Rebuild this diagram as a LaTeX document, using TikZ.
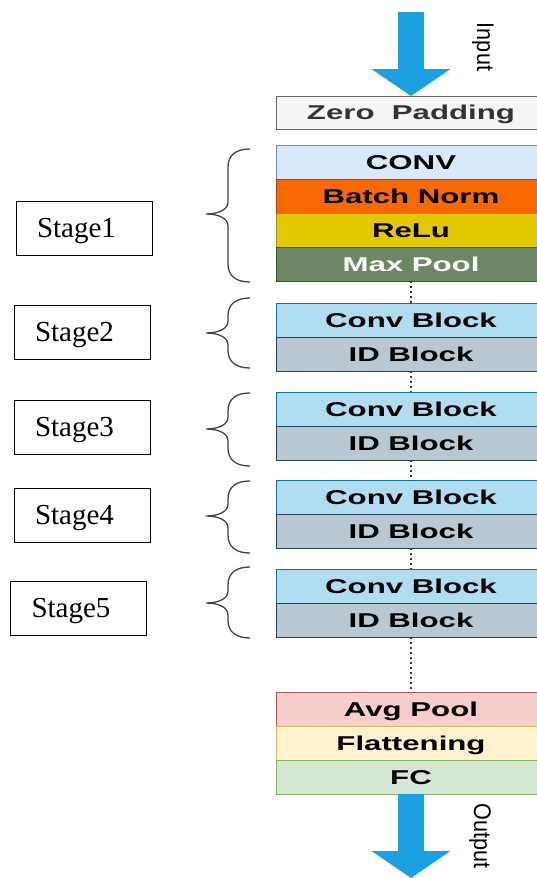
\documentclass[tikz,border=0pt]{standalone}
\usepackage{fontspec}
\setmainfont{Liberation Serif}
\newfontfamily\blockfont{Liberation Sans}[FakeStretch=1.56]
\newfontfamily\iofont{Liberation Sans}[FakeStretch=0.9]
\usetikzlibrary{arrows.meta,positioning}
\definecolor{padfill}{HTML}{F5F5F5}
\definecolor{padline}{HTML}{666666}
\definecolor{padtext}{HTML}{333333}
\definecolor{convfill}{HTML}{DAE8FC}
\definecolor{convline}{HTML}{6C8EBF}
\definecolor{bnfill}{HTML}{FA6800}
\definecolor{bnline}{HTML}{C73500}
\definecolor{relufill}{HTML}{E3C800}
\definecolor{reluline}{HTML}{B09500}
\definecolor{poolfill}{HTML}{6D8764}
\definecolor{poolline}{HTML}{3A5431}
\definecolor{cbfill}{HTML}{B1DDF0}
\definecolor{cbline}{HTML}{10739E}
\definecolor{idfill}{HTML}{BAC8D3}
\definecolor{idline}{HTML}{23445D}
\definecolor{avgfill}{HTML}{F8CECC}
\definecolor{avgline}{HTML}{B85450}
\definecolor{flatfill}{HTML}{FFF2CC}
\definecolor{flatline}{HTML}{D6B656}
\definecolor{fcfill}{HTML}{D5E8D4}
\definecolor{fcline}{HTML}{82B366}
\definecolor{flowblue}{HTML}{1BA1E2}
\definecolor{bracegray}{HTML}{444444}

\begin{document}
\begin{tikzpicture}[
                x=1pt, y=-1pt,
                layer/.style={
                        draw, line width=0.8pt, minimum width=270pt,
                        minimum height=34pt, inner sep=0pt, outer sep=0pt,
                        text height=14.3pt, text depth=0pt,
                        font=\blockfont\bfseries\fontsize{20}{23}\selectfont
                    },
                stagebox/.style={
                        draw=black, line width=0.8pt, text width=94pt,
                        inner xsep=21pt, inner ysep=0pt, minimum height=54pt,
                        align=left, text height=19pt, text depth=0pt,
                        font=\fontsize{29}{32}\selectfont
                    },
                iolabel/.style={font=\iofont\fontsize{24}{26}\selectfont, rotate=-90},
                flow/.style={draw=flowblue, line width=26pt,
                        -{Triangle[width=79pt, length=27pt, line width=0pt]}},
                dotline/.style={draw=padtext, line width=1.6pt, dash pattern=on 1.6pt off 3.4pt},
                brace/.style={draw=bracegray, line width=1.3pt}
                ]
                \useasboundingbox (0,0) rectangle (536,878);

                % input side
                \coordinate (intop) at (411,12);
                \node[iolabel] (inlabel) at (483,47) {Input};
                \node[layer, fill=padfill, draw=padline, text=padtext, minimum height=33pt] (zero) at (411,112.5) {Zero~~Padding};

                % stage 1
                \node[layer, fill=convfill, draw=convline, anchor=north] (conv) at (411,145) {CONV};
                \node[layer, fill=bnfill, draw=bnline, below=0pt of conv] (bnorm) {Batch Norm};
                \node[layer, fill=relufill, draw=reluline, below=0pt of bnorm] (relu) {ReLu};
                \node[layer, fill=poolfill, draw=poolline, text=white, below=0pt of relu] (maxpool) {Max Pool};

                % stages 2-5
                \node[layer, fill=cbfill, draw=cbline, anchor=north] (convblk2) at (411,303) {Conv Block};
                \node[layer, fill=idfill, draw=idline, below=0pt of convblk2] (idblk2) {ID Block};
                \node[layer, fill=cbfill, draw=cbline, anchor=north] (convblk3) at (411,392) {Conv Block};
                \node[layer, fill=idfill, draw=idline, below=0pt of convblk3] (idblk3) {ID Block};
                \node[layer, fill=cbfill, draw=cbline, anchor=north] (convblk4) at (411,480) {Conv Block};
                \node[layer, fill=idfill, draw=idline, below=0pt of convblk4] (idblk4) {ID Block};
                \node[layer, fill=cbfill, draw=cbline, anchor=north] (convblk5) at (411,569) {Conv Block};
                \node[layer, fill=idfill, draw=idline, below=0pt of convblk5] (idblk5) {ID Block};

                % head
                \node[layer, fill=avgfill, draw=avgline, anchor=north] (avgpool) at (411,692) {Avg Pool};
                \node[layer, fill=flatfill, draw=flatline, below=0pt of avgpool] (flatten) {Flattening};
                \node[layer, fill=fcfill, draw=fcline, below=0pt of flatten] (fc) {FC};
                \coordinate (outtip) at (411,878);
                \node[iolabel] (outlabel) at (480,836) {Output};

                % stage labels
                \node[stagebox] (stage1) at (84,228) {Stage1};
                \node[stagebox] (stage2) at (82,332) {Stage2};
                \node[stagebox] (stage3) at (82,427) {Stage3};
                \node[stagebox] (stage4) at (82,515) {Stage4};
                \node[stagebox] (stage5) at (78.5,608) {Stage5};

                \draw[flow] (intop) -- (zero.north);
                \draw[flow] (fc.south) -- (outtip);
                \draw[dotline] (maxpool) -- (convblk2);
                \draw[dotline] (idblk2) -- (convblk3);
                \draw[dotline] (idblk3) -- (convblk4);
                \draw[dotline] (idblk4) -- (convblk5);
                \draw[dotline] (idblk5) -- (avgpool);

                % braces
                \draw[brace] (250,149) .. controls (236,149) and (228,155) .. (228,167) -- (228,202)
                    .. controls (228,210) and (218,214) .. (206,214) .. controls (218,214) and (228,218) .. (228,226)
                    -- (228,264) .. controls (228,276) and (236,282) .. (250,282);
                \draw[brace] (250,298) .. controls (236,298) and (228,304) .. (228,316) -- (228,321)
                    .. controls (228,329) and (218,333) .. (206,333) .. controls (218,333) and (228,337) .. (228,345)
                    -- (228,350) .. controls (228,362) and (236,368) .. (250,368);
                \draw[brace] (250,393) .. controls (236,393) and (228,399) .. (228,411) -- (228,417)
                    .. controls (228,425) and (218,429) .. (206,429) .. controls (218,429) and (228,433) .. (228,441)
                    -- (228,448) .. controls (228,460) and (236,466) .. (250,466);
                \draw[brace] (250,481) .. controls (236,481) and (228,487) .. (228,499) -- (228,504)
                    .. controls (228,512) and (218,516) .. (206,516) .. controls (218,516) and (228,520) .. (228,528)
                    -- (228,535) .. controls (228,547) and (236,553) .. (250,553);
                \draw[brace] (250,567) .. controls (236,567) and (228,573) .. (228,585) -- (228,591)
                    .. controls (228,599) and (218,603) .. (206,603) .. controls (218,603) and (228,607) .. (228,615)
                    -- (228,620) .. controls (228,632) and (236,638) .. (250,638);
            \end{tikzpicture}
\end{document}
